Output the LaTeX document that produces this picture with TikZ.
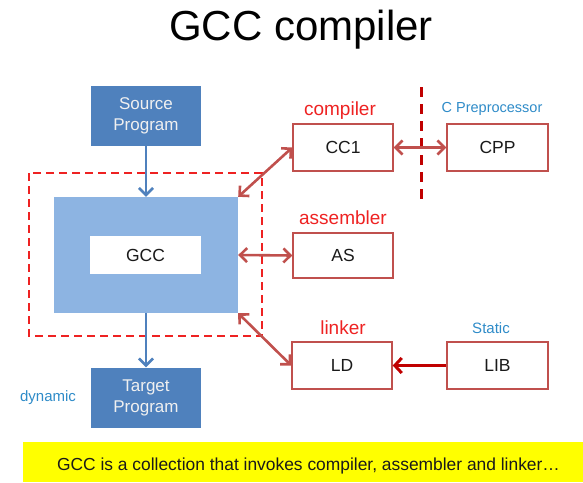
\documentclass[tikz,border=0pt]{standalone}
\usepackage{fontspec}
\setmainfont{Liberation Sans}
\usetikzlibrary{arrows.meta}
\definecolor{boxblue}{HTML}{4F81BD}
\definecolor{lightblue}{HTML}{8DB4E2}
\definecolor{boxred}{HTML}{C0504D}
\definecolor{darkred}{HTML}{C00000}
\definecolor{brightred}{HTML}{EE2222}
\definecolor{labelblue}{HTML}{2E8BC8}
\definecolor{txt}{HTML}{1A1A1A}
\definecolor{banner}{HTML}{FFFF00}
\tikzset{
  bluebox/.style={draw=none, fill=boxblue, text=white!94!black, align=center,
    font=\fontsize{17}{20}\selectfont, inner sep=0pt},
  redbox/.style={draw=boxred, line width=1.4pt, fill=white, text=txt,
    minimum width=100pt, minimum height=47pt, font=\fontsize{17.5}{20}\selectfont, inner sep=0pt},
  redlabel/.style={text=brightred, font=\fontsize{19}{21}\selectfont, inner sep=0pt},
  bluelabel/.style={text=labelblue, font=\fontsize{15}{17}\selectfont, inner sep=0pt},
  barrow/.style={draw=boxblue, line width=2.6pt, -{Straight Barb[length=7pt,width=14pt,line width=2.6pt]}},
  rarrow/.style={draw=boxred, line width=2.6pt, {Straight Barb[length=7pt,width=14pt,line width=2.6pt]}-{Straight Barb[length=7pt,width=14pt,line width=2.6pt]}},
  darrow/.style={draw=darkred, line width=3pt, -{Straight Barb[length=7pt,width=15pt,line width=3pt]}},
}
\begin{document}
\begin{tikzpicture}[x=1pt,y=-1pt]
\useasboundingbox (0,0) rectangle (583,482);
% title
\node[text=black, font=\fontsize{42}{46}\selectfont, inner sep=0pt] (title) at (301,30) {GCC compiler};
% dashed group
\draw[brightred, line width=2pt, dash pattern=on 8pt off 5pt] (29,173) rectangle (262,336);
% blue side
\node[bluebox, minimum width=110pt, minimum height=60pt] (src) at (146,116) {Source\\[1pt]Program};
\node[fill=lightblue, minimum width=184pt, minimum height=116pt, inner sep=0pt] (gccout) at (146,255) {};
\node[fill=white, minimum width=111pt, minimum height=38pt, inner sep=0pt, text=txt,
  font=\fontsize{17.5}{20}\selectfont] (gcc) at (145.5,255) {GCC};
\node[bluebox, minimum width=110pt, minimum height=60pt] (tgt) at (146,397.5) {Target\\[1pt]Program};
\draw[barrow] (src.south) -- (gccout.north);
\draw[barrow] (gccout.south) -- (tgt.north);
% red boxes
\node[redbox] (cc1) at (343,147.5) {CC1};
\node[redbox, minimum width=101pt] (cpp) at (497.5,147.5) {CPP};
\node[redbox, minimum height=45pt] (as) at (343,255.5) {AS};
\node[redbox] (ld) at (342,365.5) {LD};
\node[redbox, minimum width=101pt] (lib) at (497.5,365.5) {LIB};
% labels
\node[redlabel] (lcomp) at (340,111) {compiler};
\node[redlabel] (lasm) at (343,218) {assembler};
\node[redlabel] (llink) at (343,328) {linker};
\node[bluelabel, font=\fontsize{14.5}{17}\selectfont] (lcpp) at (492,109) {C Preprocessor};
\node[bluelabel] (lstat) at (491,328) {Static};
\node[bluelabel] (ldyn) at (48,398) {dynamic};
% vertical dashed separator
\coordinate (vtop) at (421,87);
\coordinate (vbot) at (421,203);
\draw[darkred, line width=3pt, dash pattern=on 10pt off 7pt] (vtop) -- (vbot);
% connectors
\draw[rarrow] (gccout.north east) -- (cc1.west);
\draw[rarrow] (gccout.east) -- (as.west);
\draw[rarrow] (gccout.south east) -- (ld.west);
\draw[rarrow] (cc1.east) -- (cpp.west);
\draw[darrow] (lib.west) -- (ld.east);
% banner
\node[fill=banner, minimum width=560pt, minimum height=40pt, anchor=north west, inner sep=0pt] (ban) at (23,442) {};
\node[text=txt, font=\fontsize{17.4}{20}\selectfont, inner sep=0pt] (bantxt) at (308.5,466) {GCC is a collection that invokes compiler, assembler and linker…};
\end{tikzpicture}
\end{document}
